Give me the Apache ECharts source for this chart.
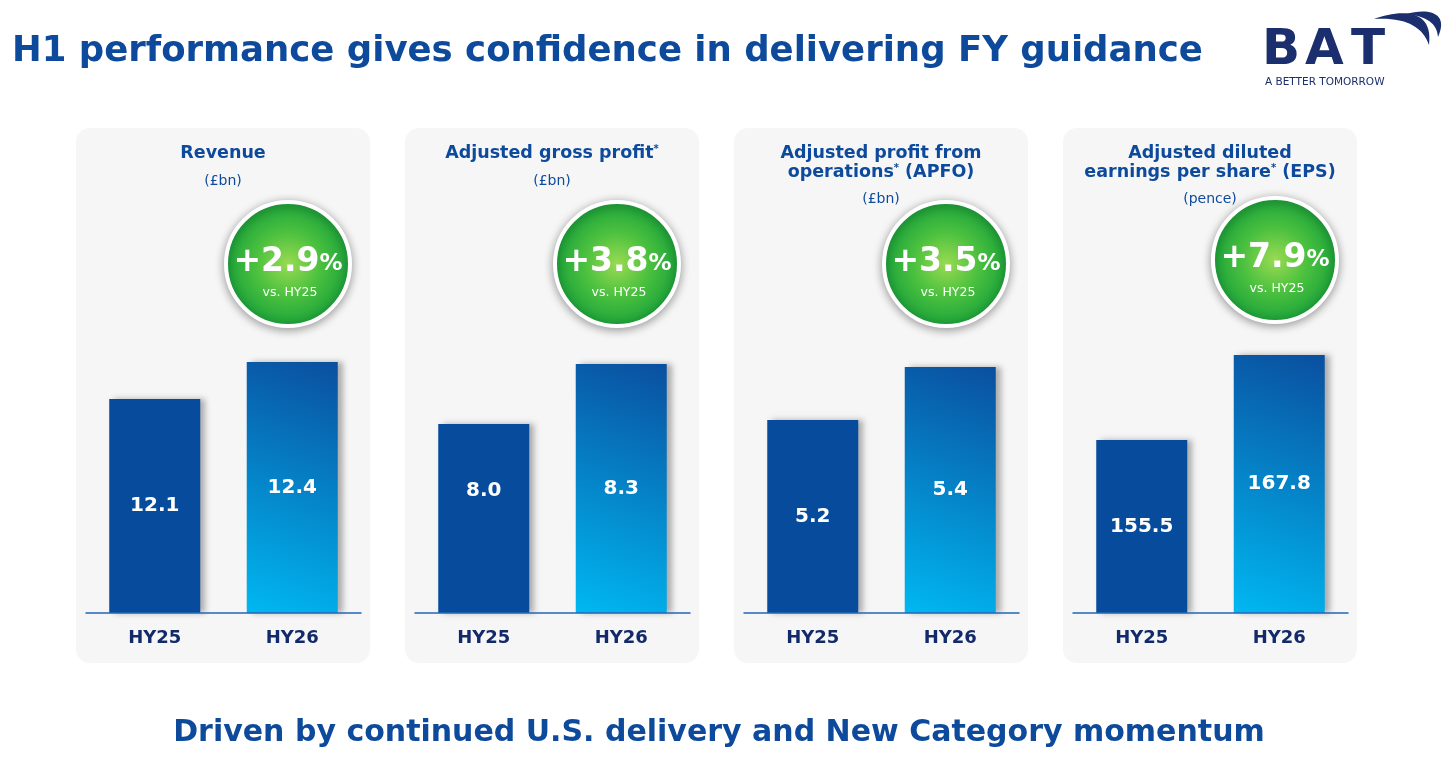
<!DOCTYPE html>
<html>
<head>
<meta charset="utf-8">
<script src="https://cdn.jsdelivr.net/npm/echarts@6/dist/echarts.min.js"></script>
<style>
  html, body { margin: 0; padding: 0; background: #fff; }
  #chart { width: 1456px; height: 762px; }
</style>
</head>
<body>
<div id="chart"></div>
<script>
// data
const titleLines = [
  ['Revenue'],
  ['{t|Adjusted gross profit}{s|*}'],
  ['{t|Adjusted profit from}', '{t|operations}{s|*}{t| (APFO)}'],
  ['{t|Adjusted diluted}', '{t|earnings per share}{s|*}{t| (EPS)}'],
]
const units = ['(£bn)', '(£bn)', '(£bn)', '(pence)']
const periods = ['HY25', 'HY26']
const hy25 = [12.1, 8.0, 5.2, 155.5]
const hy26 = [12.4, 8.3, 5.4, 167.8]
const growth = ['+2.9', '+3.8', '+3.5', '+7.9']
const compareTo = 'vs. HY25'

// axis ranges per panel (chosen so bar heights look like the slide)
const yMin = [10.365, 7.055, 4.472, 130.47]
const yMax = [12.579, 8.42, 5.502, 169.97]

const navy = '#0d4a9c'
const logoBlue = '#1b2e6e'
const font = 'DejaVu Sans'

let myChart = echarts.init(document.getElementById('chart'))

const panelLeft = i => 76 + 329 * i
const grids = [], xAxes = [], yAxes = [], series = [], graphics = []

// headline + footer
graphics.push({
  type: 'text', x: 12, y: 52, z: 10,
  style: { text: 'H1 performance gives confidence in delivering FY guidance', fill: navy,
    verticalAlign: 'middle', font: 'bold 35.5px "' + font + '"' },
})
graphics.push({
  type: 'text', x: 719, y: 733, z: 10,
  style: { text: 'Driven by continued U.S. delivery and New Category momentum', fill: navy,
    align: 'center', verticalAlign: 'middle', font: 'bold 30px "' + font + '"' },
})

// BAT logo
const logoLetters = [['B', 1262], ['A', 1305], ['T', 1351]]
logoLetters.forEach(function (l) {
  graphics.push({
    type: 'text', x: l[1], y: 51, z: 10,
    style: { text: l[0], fill: logoBlue, verticalAlign: 'middle', font: 'bold 50px "' + font + '"' },
  })
})
graphics.push({
  type: 'text', x: 1265, y: 82, z: 10,
  style: { text: 'A BETTER TOMORROW', fill: logoBlue, verticalAlign: 'middle', font: '10.5px "' + font + '"' },
})
// swoosh crescents (small svg image)
const swooshSvg = "<svg xmlns='http://www.w3.org/2000/svg' width='86' height='50'>" +
  "<path d='M6,16 C30,7 66,4 61,42 C55,23 36,14 6,16 Z' fill='" + logoBlue + "'/>" +
  "<path d='M38,11 C58,5 82,8 70,34 C69,20 58,13 38,11 Z' fill='" + logoBlue + "'/></svg>"
graphics.push({
  type: 'image', z: 10,
  style: { image: 'data:image/svg+xml;charset=utf-8,' + encodeURIComponent(swooshSvg), x: 1368, y: 3, width: 86, height: 50 },
})

for (let i = 0; i < 4; i++) {
  const px = panelLeft(i)
  // panel card
  graphics.push({
    type: 'rect', z: -10,
    shape: { x: px, y: 128, width: 294, height: 535, r: 14 },
    style: { fill: '#f6f6f6' },
  })
  // title + unit
  const lines = titleLines[i]
  graphics.push({
    type: 'text', z: 10,
    x: px + 147, y: 144,
    style: {
      text: lines.join('\n'), align: 'center', verticalAlign: 'top',
      fill: navy, font: 'bold 17.5px "' + font + '"', lineHeight: 19,
      rich: {
        t: { fontSize: 17.5, fontWeight: 'bold', fill: navy, fontFamily: font, lineHeight: 19 },
        s: { fontSize: 10, fontWeight: 'bold', fill: navy, fontFamily: font, verticalAlign: 'top', lineHeight: 19 },
      },
    },
  })
  graphics.push({
    type: 'text', z: 10,
    x: px + 147, y: 181 + (lines.length - 1) * 18,
    style: { text: units[i], align: 'center', verticalAlign: 'middle', fill: navy,
      font: '14px "' + font + '"' },
  })
  // growth badge
  const cx = px + 212, cy = i === 3 ? 260 : 264
  graphics.push({
    type: 'circle', z: 5,
    shape: { cx: cx, cy: cy, r: 62 },
    style: {
      fill: new echarts.graphic.RadialGradient(0.5, 0.5, 0.5, [
        { offset: 0, color: '#9ada52' },
        { offset: 0.5, color: '#4cc13f' },
        { offset: 1, color: '#1aa23a' },
      ]),
      stroke: '#fff', lineWidth: 4,
      shadowBlur: 10, shadowColor: 'rgba(0,0,0,0.35)', shadowOffsetY: 2,
    },
  })
  graphics.push({
    type: 'text', z: 6,
    x: cx, y: cy - 2,
    style: {
      text: '{n|' + growth[i] + '}{p|%}', align: 'center', verticalAlign: 'middle',
      rich: {
        n: { fontSize: 33, fontWeight: 'bold', fill: '#fff', fontFamily: font, verticalAlign: 'bottom' },
        p: { fontSize: 23, fontWeight: 'bold', fill: '#fff', fontFamily: font, verticalAlign: 'bottom', padding: [0, 0, 3, 0] },
      },
    },
  })
  graphics.push({
    type: 'text', z: 6,
    x: cx + 2, y: cy + 29,
    style: { text: compareTo, align: 'center', verticalAlign: 'middle', fill: '#fff',
      font: '12.5px "' + font + '"' },
  })

  // chart area
  grids.push({ left: px + 10, width: 275, top: 340, height: 273 })
  xAxes.push({
    type: 'category', gridIndex: i, data: periods,
    axisLine: { lineStyle: { color: '#2566b8', width: 1.5 } },
    axisTick: { show: false },
    axisLabel: { color: '#12296a', fontSize: 18, fontWeight: 'bold', fontFamily: font, margin: 16 },
    z: 5,
  })
  yAxes.push({ type: 'value', gridIndex: i, min: yMin[i], max: yMax[i], show: false, splitLine: { show: false } })
  series.push({
    type: 'bar', xAxisIndex: i, yAxisIndex: i,
    barWidth: 91,
    data: [
      {
        value: hy25[i],
        itemStyle: { color: '#074c9c' },
        // the gross profit label sits higher on the slide
        label: i === 1 ? { offset: [0, -28] } : {},
      },
      {
        value: hy26[i],
        itemStyle: {
          color: new echarts.graphic.LinearGradient(0, 1, 1, 0, [
            { offset: 0, color: '#00b8f1' },
            { offset: 1, color: '#0a4f9f' },
          ]),
        },
      },
    ],
    itemStyle: { shadowColor: 'rgba(0,0,0,0.3)', shadowBlur: 6, shadowOffsetX: 5 },
    label: {
      show: true, position: 'inside', color: '#fff', fontSize: 20, fontWeight: 'bold', fontFamily: font,
      formatter: p => p.value.toFixed(1),
    },
    silent: true,
    animation: false,
  })
}

let option = {
  backgroundColor: '#ffffff',
  animation: false,
  grid: grids,
  xAxis: xAxes,
  yAxis: yAxes,
  series: series,
  graphic: { elements: graphics },
}

myChart.setOption(option)
window.addEventListener('resize', function () {
  myChart.resize()
})
</script>
</body>
</html>
